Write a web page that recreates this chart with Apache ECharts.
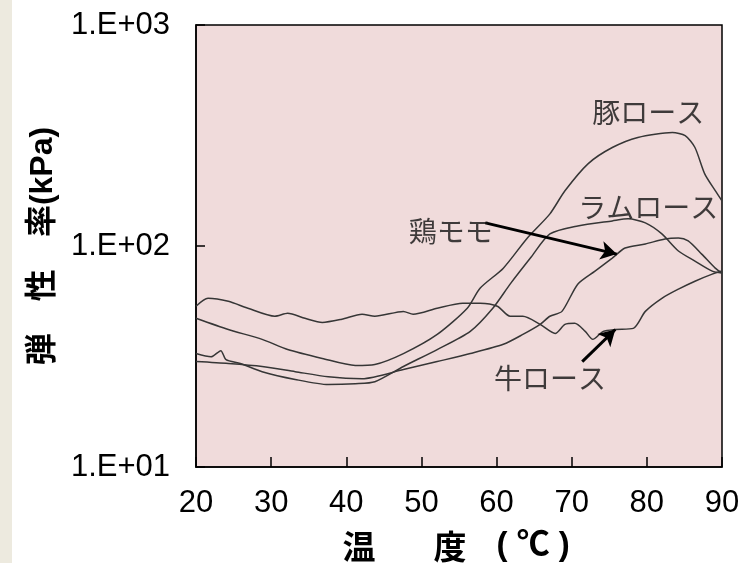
<!DOCTYPE html>
<html><head><meta charset="utf-8">
<script src="https://cdn.jsdelivr.net/npm/echarts@6/dist/echarts.min.js"></script>
<style>html,body{margin:0;padding:0;background:#fff}#c{width:754px;height:563px}</style>
</head><body><div id="c"></div>
<script>
// ---- data (temperature °C, modulus kPa) ----
const porkT = [20, 24.3, 28.8, 32.2, 36.8, 41.2, 43.8, 47.6, 52.1, 56.1, 57.8, 60.9, 64.1, 67.1, 69.1, 72.2, 75.4, 78.8, 83.4, 85.1, 86.4, 87.7, 89.1, 90];
const porkV = [47.1, 41.9, 37.8, 34.0, 31.0, 28.8, 29.1, 32.6, 39.8, 52.3, 64.4, 79.4, 108.7, 139.8, 177.8, 236, 279, 310, 326, 316, 279, 212, 178, 160];
const lambT = [20, 22.0, 23.3, 24.0, 25.9, 28.8, 33.2, 37.6, 41.2, 43.8, 47.6, 52.1, 56.5, 59.5, 61.8, 64.5, 67.1, 70.8, 75.4, 77.5, 79.8, 82.0, 84.2, 86.4, 88.7, 90];
const lambV = [32.6, 31.5, 33.6, 30.6, 29.4, 27.0, 24.9, 23.6, 23.8, 24.3, 28.5, 34.0, 41.1, 52.3, 67.2, 88.2, 113.4, 123.3, 129.9, 132.7, 127.2, 113.4, 94.9, 85.5, 77.0, 75.4];
const chickenT = [20, 24.3, 28.8, 33.2, 37.6, 42.1, 47.6, 52.1, 56.5, 60.9, 63.5, 65.8, 67.1, 68.7, 70.8, 73.1, 75.4, 77.1, 79.8, 82.4, 84.2, 85.5, 87.3, 89.1, 90];
const chickenV = [30.0, 29.4, 28.5, 27.0, 25.6, 25.1, 27.6, 30.0, 32.6, 35.9, 39.8, 44.2, 48.1, 50.6, 67.2, 77.0, 88.2, 97.9, 102.1, 107.6, 108.7, 105.4, 91.9, 79.4, 75.4];
const beefT = [20, 21.6, 24.3, 26.9, 30.5, 32.2, 34.5, 36.8, 39.4, 42.1, 43.8, 47.6, 48.9, 52.1, 55.5, 57.8, 60.1, 61.8, 63.5, 65.8, 67.8, 69.1, 70.4, 71.8, 72.8, 74.2, 75.8, 78.2, 79.8, 82.0, 84.2, 86.4, 88.7, 90];
const beefV = [53.4, 58.0, 56.2, 52.3, 48.1, 49.6, 47.1, 45.1, 46.6, 49.1, 48.1, 50.6, 49.1, 52.3, 55.1, 55.1, 53.4, 48.1, 48.1, 44.2, 40.2, 44.2, 44.7, 41.1, 37.8, 41.1, 41.9, 42.4, 50.6, 58.0, 63.8, 69.3, 74.6, 77.0];
const xTickLabels = ['20', '30', '40', '50', '60', '70', '80', '90'];
const yTickLabels = ['1.E+01', '1.E+02', '1.E+03'];
// annotations: [text, T, value]
const noteLabels = [['豚ロース', 80.2, 402], ['ラムロース', 80.2, 149], ['鶏モモ', 53.9, 117], ['牛ロース', 67.1, 25.1]];
// arrows: [fromT, fromV, toT, toV]
const noteArrows = [[58.5, 127.2, 76.0, 91.9], [71.4, 30.0, 75.8, 41.9]];

const zip = (a, b) => a.map((t, i) => [t, b[i]]);
const lineColor = '#363636';
const mkLine = (name, T, V) => ({
  name, type: 'line', data: zip(T, V), showSymbol: false, smooth: 0.25,
  lineStyle: { color: lineColor, width: 1.5 }, itemStyle: { color: lineColor }, z: 3, silent: true
});

const chart = echarts.init(document.getElementById('c'), null, { renderer: 'canvas' });
const series = [
  mkLine('豚ロース', porkT, porkV),
  mkLine('ラムロース', lambT, lambV),
  mkLine('鶏モモ', chickenT, chickenV),
  mkLine('牛ロース', beefT, beefV),
  {
    type: 'scatter', name: 'labels', data: noteLabels.map(n => ({ value: [n[1], n[2]], name: n[0] })),
    symbol: 'circle', symbolSize: 1, itemStyle: { color: 'transparent' }, silent: true, z: 5,
    label: { show: true, position: 'inside', formatter: p => p.name, color: '#111', fontSize: 28,
      fontFamily: '"Noto Sans CJK JP", sans-serif' },
    markLine: {
      silent: true, symbol: ['none', 'arrow'], symbolSize: [14, 16],
      lineStyle: { color: '#000', width: 3, type: 'solid' }, label: { show: false },
      data: noteArrows.map(a => [{ coord: [a[0], a[1]] }, { coord: [a[2], a[3]] }])
    }
  }
];

const titleFont = { fontSize: 33, fontWeight: 'bold', color: '#000', fontFamily: '"Noto Sans CJK JP", sans-serif', lineHeight: 34, align: 'left' };
chart.setOption({
  animation: false,
  backgroundColor: '#fff',
  graphic: [{ type: 'rect', left: 0, top: 0, shape: { width: 12, height: 563 }, style: { fill: '#edeadf' }, silent: true }],
  grid: { left: 196, top: 25, right: 32, bottom: 96, outerBoundsMode: 'none', containLabel: false,
    show: true, backgroundColor: '#f0dbdb', borderColor: '#000', borderWidth: 1.5 },
  xAxis: {
    type: 'value', min: 20, max: 90, interval: 10,
    axisLine: { show: true, lineStyle: { color: '#000', width: 1.5 } },
    axisTick: { show: true, inside: true, length: 10, lineStyle: { color: '#000', width: 1.5 } },
    splitLine: { show: false },
    axisLabel: { margin: 21, fontSize: 31, color: '#000', fontFamily: '"Liberation Sans", Arial, sans-serif',
      formatter: v => xTickLabels[Math.round((v - 20) / 10)] },
    name: '{a|温}{b|度}{c|( ℃ )}', nameLocation: 'middle', nameGap: 62,
    nameTextStyle: Object.assign({}, titleFont, {
      align: 'center',
      rich: {
        a: Object.assign({}, titleFont, { width: 91 }),
        b: Object.assign({}, titleFont, { width: 63 }),
        c: Object.assign({}, titleFont, { width: 79, fontFamily: '"Liberation Sans", "Noto Sans CJK JP", sans-serif' })
      }
    })
  },
  yAxis: {
    type: 'log', logBase: 10, min: 10, max: 1000,
    axisLine: { show: true, lineStyle: { color: '#000', width: 1.5 } },
    axisTick: { show: true, inside: true, length: 9, lineStyle: { color: '#000', width: 1.5 } },
    minorTick: { show: false }, splitLine: { show: false },
    axisLabel: { margin: 26, fontSize: 31, color: '#000', fontFamily: '"Liberation Sans", Arial, sans-serif',
      formatter: v => yTickLabels[Math.round(Math.log10(v)) - 1] },
    name: '弾　性　率(kPa)', nameLocation: 'middle', nameGap: 137, nameRotate: 90,
    nameTextStyle: { fontSize: 32, fontWeight: 'bold', color: '#000', fontFamily: '"Liberation Sans", "Noto Sans CJK JP", sans-serif' }
  },
  series
});
</script></body></html>
